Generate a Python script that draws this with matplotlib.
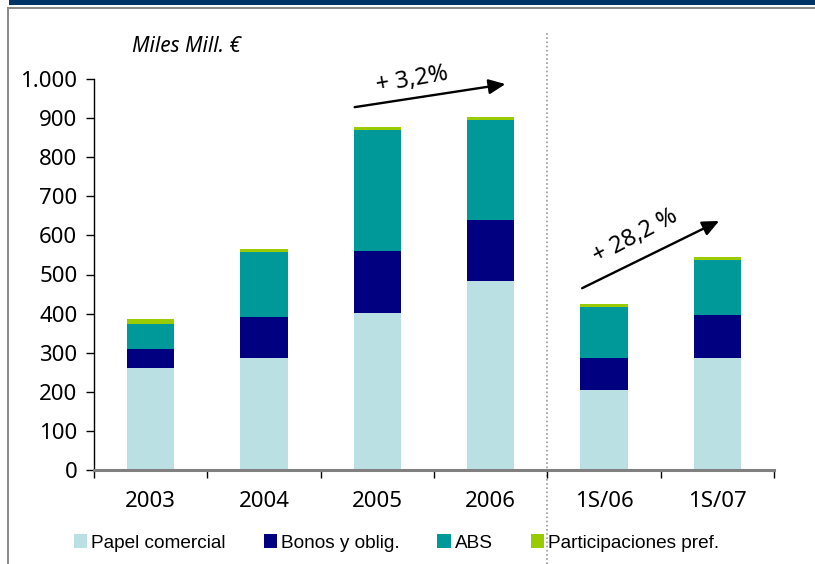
import matplotlib
matplotlib.use("Agg")
import matplotlib.pyplot as plt
from matplotlib.patches import Rectangle
import numpy as np

# data (Miles Mill. EUR)
periods = ["2003", "2004", "2005", "2006", "1S/06", "1S/07"]
papel = [261, 286, 401, 483, 205, 286]
bonos = [48, 105, 159, 156, 81, 110]
abs_ = [64, 166, 310, 256, 131, 141]
partic = [13, 8, 7, 8, 8, 8]
series_names = ["Papel comercial", "Bonos y oblig.", "ABS", "Participaciones pref."]
colors = ["#BBE0E3", "#000080", "#009999", "#99CC00"]

W, H = 815, 564


def fx(px):
    return px / W


def fy(py):
    return 1 - py / H


fig = plt.figure(figsize=(W / 100, H / 100), dpi=100)
fig.patch.set_facecolor("white")

# frame decorations: navy band on top, grey rule and left border
fig.add_artist(Rectangle((fx(9), fy(5)), 1, fy(0) - fy(5), transform=fig.transFigure,
                         facecolor="#003366", edgecolor="none"))
fig.add_artist(Rectangle((fx(7), fy(9)), 1, fy(7) - fy(9), transform=fig.transFigure,
                         facecolor="#8c8c8c", edgecolor="none"))
fig.add_artist(Rectangle((fx(7), 0), fx(2), fy(9), transform=fig.transFigure,
                         facecolor="#8c8c8c", edgecolor="none"))

ax = fig.add_axes([fx(94), fy(470), fx(774) - fx(94), fy(79) - fy(470)])
x = np.arange(len(periods))
width = 0.415

bottom = np.zeros(len(periods))
handles = []
for vals, name, c in zip([papel, bonos, abs_, partic], series_names, colors):
    b = ax.bar(x, vals, width, bottom=bottom, color=c, label=name, zorder=2)
    handles.append(b)
    bottom += np.array(vals)

ax.set_xlim(-0.5, len(periods) - 0.5)
ax.set_ylim(0, 1000)
ax.set_yticks(np.arange(0, 1001, 100))
ax.set_yticklabels([f"{v:,}".replace(",", ".") for v in range(0, 1001, 100)])

# ticks at category boundaries, labels centred
ax.set_xticks(np.arange(-0.5, len(periods), 1.0))
ax.set_xticklabels([])
ax.set_xticks(x, minor=True)
ax.set_xticklabels(periods, minor=True)
ax.tick_params(axis="x", which="minor", length=0, pad=15)
ax.tick_params(axis="x", which="major", length=6, width=1, color="black", direction="out")
ax.tick_params(axis="y", length=6, width=1, direction="out", pad=6)

for lab in ax.get_yticklabels() + ax.get_xticklabels(minor=True):
    lab.set_fontfamily("Noto Sans")
    lab.set_fontsize(16)

for s in ["top", "right"]:
    ax.spines[s].set_visible(False)
ax.spines["left"].set_color("black")
ax.spines["left"].set_linewidth(1)
ax.spines["bottom"].set_color("#808080")
ax.spines["bottom"].set_linewidth(2.2)

# dotted separator between years and half-years
ax.axvline(3.5, ymin=(470 - 564) / 391, ymax=(470 - 33) / 391, color="#999999",
           linestyle=(0, (1, 1.5)), linewidth=1.2, clip_on=False, zorder=1)

# growth arrows
arrow = dict(arrowstyle="-|>,head_length=1.0,head_width=0.45", color="black",
             lw=1.7, shrinkA=0, shrinkB=0)
ax.annotate("", xy=(3.13, 987), xytext=(1.80, 928), arrowprops=arrow,
            annotation_clip=False)
ax.text(2.31, 997, "+ 3,2%", rotation=10, ha="center", va="center",
        fontsize=17, family="Noto Sans", rotation_mode="anchor")
ax.annotate("", xy=(5.016, 637), xytext=(3.807, 465), arrowprops=arrow,
            annotation_clip=False)
ax.text(4.28, 598, "+ 28,2 %", rotation=28, ha="center", va="center",
        fontsize=17, family="Noto Sans", rotation_mode="anchor")

fig.text(fx(186), fy(46), "Miles Mill. €", ha="center", va="center",
         fontsize=15, style="italic", family="Noto Sans")

fig.legend(handles=handles, labels=series_names, loc="center left",
           bbox_to_anchor=(fx(74), fy(543)), ncol=4, frameon=False,
           prop={"family": "Liberation Sans", "size": 13.7},
           handlelength=0.7, handleheight=0.7, handletextpad=0.2,
           columnspacing=2.0, borderpad=0, borderaxespad=0)

fig.savefig("out.png", dpi=100)
